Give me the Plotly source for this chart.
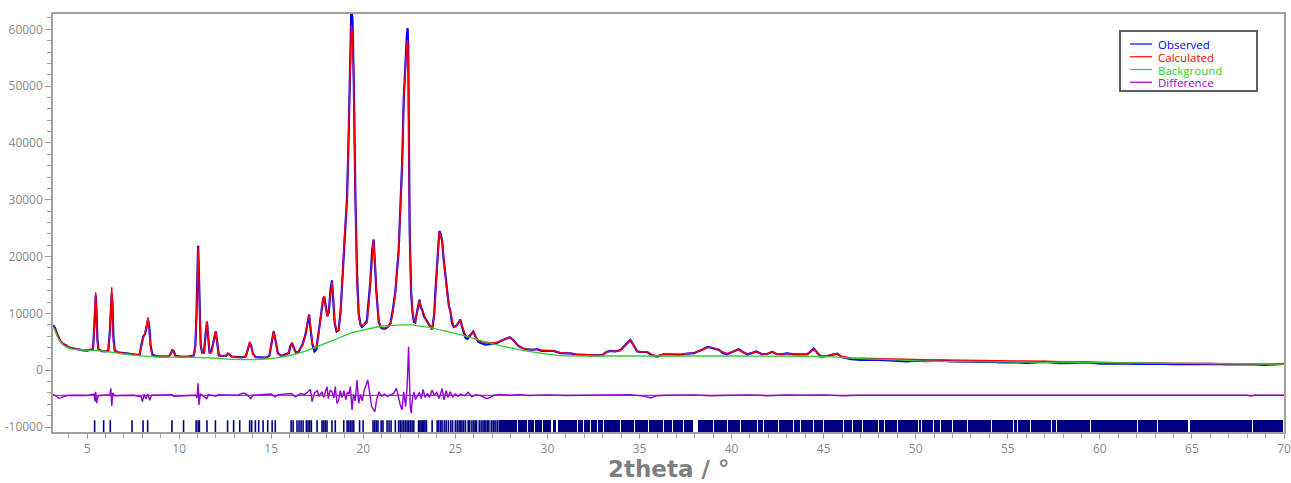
import plotly.graph_objects as go

# ---------------- data ----------------
X_PAT = [3.15, 3.25, 3.35, 3.45, 3.55, 3.7, 3.85, 4.0, 4.2, 4.4, 4.6, 4.8, 5.0, 5.2, 5.32, 5.38, 5.43, 5.47, 5.51, 5.56,
         5.62, 5.8, 6.0, 6.15, 6.24, 6.3, 6.34, 6.38, 6.43, 6.5, 6.7, 7.0, 7.3, 7.6, 7.85, 7.95, 8.05, 8.15, 8.25, 8.31,
         8.37, 8.45, 8.55, 8.8, 9.1, 9.45, 9.55, 9.63, 9.7, 9.8, 10.1, 10.5, 10.8, 10.88, 10.94, 10.99, 11.03, 11.07, 11.11, 11.17,
         11.25, 11.35, 11.44, 11.51, 11.57, 11.65, 11.75, 11.85, 11.94, 11.99, 12.06, 12.15, 12.35, 12.55, 12.64, 12.72, 12.85, 13.1, 13.4, 13.62,
         13.73, 13.83, 13.9, 14.0, 14.15, 14.4, 14.7, 14.9, 15.02, 15.13, 15.24, 15.36, 15.55, 15.8, 15.95, 16.05, 16.13, 16.22, 16.35, 16.5,
         16.7, 16.87, 16.98, 17.06, 17.14, 17.24, 17.35, 17.45, 17.58, 17.72, 17.82, 17.88, 17.95, 18.05, 18.13, 18.22, 18.3, 18.37, 18.45, 18.55,
         18.66, 18.77, 18.85, 18.99, 19.12, 19.21, 19.3, 19.35, 19.41, 19.48, 19.57, 19.66, 19.75, 19.85, 19.93, 20.05, 20.2, 20.3, 20.38, 20.48,
         20.56, 20.63, 20.71, 20.84, 20.95, 21.05, 21.2, 21.35, 21.47, 21.6, 21.74, 21.92, 22.02, 22.11, 22.2, 22.3, 22.36, 22.41, 22.44, 22.47,
         22.52, 22.6, 22.67, 22.75, 22.82, 22.92, 23.0, 23.05, 23.12, 23.2, 23.3, 23.46, 23.6, 23.74, 23.85, 23.93, 24.0, 24.08, 24.13, 24.2,
         24.28, 24.35, 24.42, 24.55, 24.65, 24.73, 24.82, 24.91, 25.05, 25.18, 25.27, 25.4, 25.55, 25.65, 25.8, 25.97, 26.1, 26.25, 26.45, 26.65,
         26.85, 27.05, 27.25, 27.5, 27.75, 27.95, 28.15, 28.4, 28.65, 28.9, 29.2, 29.44, 29.7, 30.0, 30.34, 30.7, 31.0, 31.25, 31.6, 32.0,
         32.4, 32.7, 33.0, 33.2, 33.42, 33.7, 33.96, 34.2, 34.5, 34.72, 34.87, 35.1, 35.41, 35.7, 35.96, 36.3, 36.68, 37.0, 37.23, 37.5,
         37.95, 38.4, 38.7, 38.95, 39.3, 39.55, 39.76, 40.1, 40.39, 40.6, 40.85, 41.1, 41.34, 41.66, 41.95, 42.21, 42.45, 42.7, 43.02, 43.4,
         43.8, 44.1, 44.3, 44.46, 44.62, 44.83, 45.2, 45.5, 45.74, 46.0, 46.5, 47.0, 47.5, 48.0, 48.81, 49.5, 50.08, 50.5, 51.0, 51.5,
         51.89, 52.4, 52.8, 53.5, 54.1, 54.6, 55.3, 56.06, 57.0, 57.87, 58.5, 59.3, 60.04, 61.0, 62.0, 63.0, 64.0, 65.0, 66.0, 67.0,
         68.0, 69.0, 70.0]

Y_CALC = [7800, 7300, 6500, 5800, 5200, 4700, 4300, 4100, 3900, 3750, 3650, 3600, 3550, 3550, 3700, 6500, 11000, 13700, 10500, 5000,
          3500, 3400, 3350, 3400, 6500, 12000, 14600, 11000, 5000, 3300, 3150, 3000, 2900, 2800, 2700, 4200, 5700, 6500, 8500, 9300,
          7500, 4000, 2600, 2500, 2450, 2450, 2800, 3700, 3200, 2500, 2400, 2400, 2600, 4000, 9000, 17000, 21500, 16500, 8500, 4500,
          3200, 3200, 6000, 8600, 6500, 3200, 3100, 4500, 6600, 6900, 5000, 2700, 2500, 2550, 3000, 2700, 2400, 2350, 2250, 2400,
          3700, 5000, 4300, 2800, 2300, 2200, 2200, 2500, 4800, 6900, 5000, 2900, 2500, 2700, 3200, 4200, 4900, 3700, 3100, 3400,
          4300, 6200, 8800, 9600, 7500, 4800, 3900, 4200, 6500, 10000, 12800, 13000, 11000, 9500, 10500, 13500, 15500, 13000, 8500, 7000,
          7100, 10000, 15300, 24100, 30000, 41700, 56400, 60800, 59000, 51100, 30000, 15300, 9400, 8000, 7900, 8100, 8300, 11500, 15300, 21000,
          23000, 19500, 14100, 8800, 7600, 7400, 7400, 7600, 8000, 10000, 13500, 21200, 28000, 35800, 47500, 55000, 57500, 58100, 55000, 41700,
          24100, 14100, 10500, 8800, 8600, 10000, 11800, 12200, 11500, 10500, 9800, 8500, 7800, 7400, 9500, 14000, 18200, 23000, 24500, 23500,
          22900, 20500, 17500, 13500, 11500, 10300, 8500, 7700, 7700, 8500, 8800, 7500, 6200, 5800, 6200, 6700, 5800, 5200, 5000, 4900,
          4800, 4800, 4900, 5200, 5500, 5800, 5300, 4300, 3900, 3700, 3600, 3700, 3500, 3400, 3400, 3100, 3050, 2950, 2800, 2700,
          2650, 2650, 2700, 3200, 3350, 3300, 3550, 4200, 5200, 4300, 3300, 3200, 3250, 2700, 2550, 2800, 2850, 2800, 2800, 2900,
          3000, 3600, 4000, 4000, 3550, 3100, 2850, 3300, 3600, 3200, 2850, 3000, 3250, 2800, 2900, 3200, 2850, 2800, 2950, 2800,
          2800, 2800, 3300, 3700, 3200, 2500, 2550, 2800, 2850, 2400, 2150, 2100, 2050, 2000, 1920, 1900, 1920, 1850, 1800, 1820,
          1800, 1750, 1700, 1650, 1620, 1620, 1610, 1620, 1600, 1450, 1440, 1430, 1320, 1300, 1270, 1240, 1210, 1180, 1160, 1140,
          1120, 1100, 1080]

Y_OBS = [7900, 7500, 6600, 5900, 5100, 4600, 4400, 4000, 3850, 3700, 3550, 3500, 3450, 3550, 3700, 6800, 9800, 13200, 10600, 5600,
         3700, 3350, 3300, 3400, 6900, 10500, 13500, 11800, 6000, 3500, 3100, 3000, 2850, 2750, 2650, 4500, 5900, 6400, 8000, 8800,
         7900, 4400, 2700, 2450, 2400, 2450, 2900, 3500, 3400, 2550, 2350, 2400, 2600, 4300, 9500, 16000, 21900, 17500, 9500, 4400,
         3100, 3100, 6400, 8500, 6200, 3000, 3300, 4700, 6500, 6800, 5100, 2600, 2500, 2550, 2900, 2800, 2400, 2300, 2250, 2450,
         3600, 4700, 4500, 3000, 2300, 2200, 2200, 2500, 4600, 6800, 5200, 3000, 2500, 2800, 3000, 4300, 4800, 4000, 3000, 3300,
         4500, 6400, 8600, 9800, 7200, 4500, 3300, 3600, 6800, 10300, 12500, 13000, 11500, 9500, 10200, 14200, 15800, 12500, 8200, 6800,
         7000, 10500, 15500, 24000, 30500, 42000, 57000, 63500, 62000, 51500, 31000, 17000, 10000, 8000, 7600, 8000, 8800, 12000, 15500, 21000,
         23000, 19000, 13800, 8500, 7500, 7300, 7300, 7700, 8200, 10500, 13800, 21000, 28500, 36500, 48000, 56000, 58500, 60200, 57000, 44000,
         24500, 13500, 10200, 8500, 8400, 10300, 11500, 12400, 11000, 10600, 9500, 8500, 7900, 7200, 9800, 14500, 18000, 23500, 24500, 24000,
         22800, 20000, 18000, 13800, 11300, 10400, 8300, 7600, 7800, 8400, 8900, 7200, 5700, 5500, 6100, 6800, 5900, 5000, 4700, 4500,
         4600, 4700, 4800, 5200, 5500, 5800, 5300, 4300, 3850, 3650, 3600, 3700, 3400, 3350, 3400, 3000, 3000, 2950, 2750, 2700,
         2600, 2600, 2700, 3200, 3400, 3300, 3500, 4300, 5300, 4200, 3300, 3200, 3200, 2600, 2400, 2800, 2800, 2800, 2700, 2900,
         3000, 3600, 4100, 3900, 3600, 3000, 2850, 3300, 3700, 3200, 2800, 3000, 3300, 2800, 2900, 3200, 2850, 2800, 2950, 2800,
         2750, 2800, 3300, 3800, 3200, 2400, 2500, 2700, 2900, 2300, 1950, 1800, 1850, 1800, 1700, 1550, 1700, 1600, 1650, 1700,
         1550, 1500, 1400, 1450, 1500, 1350, 1400, 1300, 1450, 1250, 1300, 1350, 1150, 1200, 1100, 1150, 1050, 1100, 1100, 1000,
         1050, 950, 1100]

X_BKG = [3.15, 3.2, 3.4, 3.6, 3.83, 4.1, 4.56, 5.2, 5.65, 6.2, 6.73, 7.5, 8.54, 9.6, 10.72, 12.0, 13.07, 13.87, 14.8, 15.68,
         16.6, 17.49, 18.4, 19.3, 20.2, 21.1, 21.8, 22.56, 23.2, 23.82, 24.73, 25.45, 26.4, 27.27, 28.2, 29.08, 29.8, 30.53, 31.5, 32.7,
         36.32, 40.0, 44.0, 45.5, 46.64, 47.8, 48.81, 50.5, 52.0, 55.0, 57.9, 60.04, 65.0, 69.1, 70.0]
Y_BKG = [7600, 7380, 5800, 4800, 4140, 3800, 3600, 3500, 3430, 3200, 2970, 2650, 2380, 2300, 2270, 2100, 1900, 1850, 2000, 2380,
         3100, 4140, 5300, 6490, 7250, 7780, 7950, 7960, 7700, 7380, 6670, 6080, 5200, 4440, 3800, 3260, 2900, 2620, 2520, 2500,
         2500, 2500, 2450, 2350, 2090, 1950, 1800, 1600, 1520, 1450, 1380, 1320, 1200, 1090, 1070]

X_DIFF = [3.15, 3.3, 3.48, 3.7, 3.9, 4.5, 5.0, 5.38, 5.43, 5.47, 5.52, 5.6, 6.0, 6.24, 6.29, 6.34, 6.4, 6.5, 7.5, 7.95,
          8.0, 8.1, 8.2, 8.3, 8.4, 8.5, 9.6, 9.7, 10.9, 10.97, 11.03, 11.08, 11.15, 11.5, 11.6, 12.0, 12.1, 13.2, 13.45, 13.6,
          13.8, 13.9, 14.0, 15.0, 15.2, 15.4, 16.1, 16.3, 16.6, 16.8, 17.0, 17.13, 17.22, 17.35, 17.5, 17.6, 17.75, 17.85, 17.95, 18.03,
          18.1, 18.2, 18.3, 18.4, 18.48, 18.57, 18.66, 18.75, 18.85, 18.95, 19.05, 19.15, 19.22, 19.3, 19.39, 19.47, 19.56, 19.66, 19.75, 19.85,
          19.95, 20.05, 20.15, 20.24, 20.35, 20.45, 20.56, 20.63, 20.72, 20.85, 21.0, 21.15, 21.3, 21.5, 21.65, 21.8, 21.9, 22.0, 22.1, 22.2,
          22.3, 22.38, 22.46, 22.5, 22.55, 22.6, 22.67, 22.75, 22.83, 22.92, 23.05, 23.15, 23.25, 23.35, 23.5, 23.6, 23.74, 23.85, 24.0, 24.1,
          24.2, 24.28, 24.38, 24.5, 24.6, 24.72, 24.85, 25.0, 25.15, 25.3, 25.5, 25.7, 25.9, 26.1, 26.4, 26.7, 26.9, 27.1, 27.4, 28.0,
          28.5, 29.0, 30.0, 31.0, 32.0, 33.0, 34.0, 34.5, 35.3, 35.6, 35.9, 36.5, 38.0, 38.8, 40.0, 41.0, 42.0, 43.0, 44.0, 45.0,
          46.0, 47.0, 50.0, 54.7, 55.0, 55.4, 60.0, 65.0, 68.0, 68.2, 68.4, 70.0]
Y_DIFF = [-4300, -4500, -4950, -4700, -4450, -4400, -4450, -4200, -5500, -3800, -5800, -4500, -4400, -4300, -3190, -6300, -4000, -4500, -4400, -4700,
          -5550, -4300, -5000, -4200, -5300, -4400, -4300, -4600, -4400, -4900, -2300, -6130, -4200, -5000, -4300, -4600, -4300, -4400, -4050, -4100,
          -4700, -5000, -4400, -4200, -4700, -4300, -4100, -4700, -4100, -4300, -3800, -3360, -5540, -4000, -3600, -4600, -3800, -4800, -3700, -2900,
          -5000, -3500, -3800, -4900, -2900, -5830, -5300, -3600, -4800, -3600, -5200, -3800, -4200, -2900, -7000, -4200, -5400, -1720, -5830, -4300,
          -5400, -3500, -2600, -1720, -4000, -6300, -7000, -7300, -5300, -3800, -4600, -4200, -4600, -4300, -4100, -3190, -4800, -6000, -7000, -3800,
          -6400, -3000, 4140, -4000, -6500, -7570, -5000, -3800, -5200, -4660, -3900, -5000, -3360, -4800, -4100, -4800, -3490, -4400, -3900, -5000,
          -4200, -3190, -5200, -3600, -4800, -3800, -4700, -4200, -4600, -4200, -4500, -3900, -4700, -4300, -4500, -5000, -4800, -4400, -4250, -4400,
          -4300, -4450, -4350, -4450, -4400, -4350, -4400, -4300, -4600, -4900, -4500, -4400, -4350, -4500, -4400, -4350, -4500, -4350, -4400, -4350,
          -4500, -4400, -4400, -4400, -4500, -4450, -4420, -4420, -4420, -4550, -4420, -4420]
DIFF_BASELINE = -4420

# reflection (hkl) tick positions, individually resolved at low angle
HKL_TICKS = [5.41, 5.9, 6.26, 7.44, 8.04, 8.29, 9.61, 10.24, 10.92, 11.03, 11.1, 11.51, 11.97, 12.63, 12.96, 13.29, 13.83, 13.94, 14.14, 14.32,
             14.56, 14.81, 15.05, 15.22, 16.08, 16.19, 16.4, 16.51, 16.62, 16.73, 16.91, 17.0, 17.09, 17.18, 17.49, 17.76, 17.85, 17.94, 18.03, 18.3,
             18.48, 18.94, 19.12, 19.21, 19.3, 19.39, 19.48, 19.8, 19.99, 20.53, 20.62, 20.71, 20.8, 20.97, 21.07, 21.29, 21.4, 21.51, 21.74, 21.92,
             22.01, 22.1, 22.2, 22.29, 22.38, 22.47, 22.56, 22.65, 22.74, 23.0, 23.07, 23.14, 23.21, 23.28, 23.35, 23.43, 23.74, 24.01, 24.1, 24.2,
             24.28, 24.4, 24.5, 24.62, 24.75, 24.85, 25.0, 25.1, 25.2, 25.28, 25.36, 25.45, 25.55, 25.7, 25.78, 25.9, 26.0, 26.08, 26.15, 26.3,
             26.4, 26.5, 26.58, 26.66, 26.75, 26.82, 26.95, 27.05, 27.1, 27.2, 27.3, 27.4]
# at higher angle the reflections merge into a solid band, broken by narrow gaps
HKL_BAND_START = 27.45
HKL_BAND_END = 69.95
HKL_BAND_GAPS = [28.39, 28.9, 29.29, 29.71, 30.25, 30.52, 31.61, 31.97, 32.33, 32.7, 33.06, 33.96, 34.72, 35.5, 36.32, 36.77, 37.4, 38.04,
                 39.03, 39.76, 40.48, 41.39, 41.75, 42.57, 43.38, 43.74, 44.47, 45.01, 46.1, 46.55, 47.12, 47.99, 48.32, 49.02, 50.13, 50.31,
                 50.95, 51.34, 51.98, 52.8, 54.1, 55.33, 55.55, 56.24, 57.38, 57.65, 59.5, 62.03, 63.15, 64.84, 68.31]
HKL_GAP_WIDTHS = [0.06] * 17 + [0.32] + [0.06] * 33
HKL_TOP = -8800
HKL_BOTTOM = -10880

X_RANGE = [3.15, 70.0]
Y_RANGE = [-10880, 62700]
Y_TICKVALS = [-10000, 0, 10000, 20000, 30000, 40000, 50000, 60000]
Y_TICKTEXT = ["-10000", "0", "10000", "20000", "30000", "40000", "50000", "60000"]
X_TICKVALS = [5, 10, 15, 20, 25, 30, 35, 40, 45, 50, 55, 60, 65, 70]
X_TICKTEXT = ["5", "10", "15", "20", "25", "30", "35", "40", "45", "50", "55", "60", "65", "70"]
X_TITLE = "2theta / °"

SERIES_NAMES = ["Observed", "Calculated", "Background", "Difference"]
SERIES_COLORS = ["#0000ff", "#ff0000", "#33cc33", "#9400d3"]
TICK_COLOR = "#000080"

# ---------------- figure ----------------
W, H = 1291, 483
ML, MR, MT, MB = 53, 7, 14, 51
FONT = "Open Sans, Noto Sans, sans-serif"
GRAY = "#8a8a8a"

fig = go.Figure()

fig.add_trace(go.Scatter(x=X_PAT, y=Y_OBS, mode="lines", name=SERIES_NAMES[0],
                         line=dict(color=SERIES_COLORS[0], width=2.2), showlegend=False))
fig.add_trace(go.Scatter(x=X_PAT, y=Y_CALC, mode="lines", name=SERIES_NAMES[1],
                         line=dict(color=SERIES_COLORS[1], width=1.4), showlegend=False))
fig.add_trace(go.Scatter(x=X_BKG, y=Y_BKG, mode="lines", name=SERIES_NAMES[2],
                         line=dict(color=SERIES_COLORS[2], width=1.3, shape="spline"), showlegend=False))
fig.add_trace(go.Scatter(x=[X_RANGE[0], X_RANGE[1]], y=[DIFF_BASELINE, DIFF_BASELINE], mode="lines",
                         line=dict(color=SERIES_COLORS[3], width=1), showlegend=False, hoverinfo="skip"))
fig.add_trace(go.Scatter(x=X_DIFF, y=Y_DIFF, mode="lines", name=SERIES_NAMES[3],
                         line=dict(color=SERIES_COLORS[3], width=1.4), showlegend=False))

# individual reflection ticks
tx, ty = [], []
for t in HKL_TICKS:
    tx += [t, t, None]
    ty += [HKL_TOP, HKL_BOTTOM, None]
fig.add_trace(go.Scatter(x=tx, y=ty, mode="lines", line=dict(color=TICK_COLOR, width=1.6),
                         showlegend=False, hoverinfo="skip", name="Reflections"))

# dense reflection band (segments between the gaps)
seg_c, seg_w = [], []
start = HKL_BAND_START
for g, gw in zip(HKL_BAND_GAPS, HKL_GAP_WIDTHS):
    end = g - gw / 2
    seg_c.append((start + end) / 2)
    seg_w.append(end - start)
    start = g + gw / 2
seg_c.append((start + HKL_BAND_END) / 2)
seg_w.append(HKL_BAND_END - start)
fig.add_trace(go.Bar(x=seg_c, y=[HKL_TOP - HKL_BOTTOM] * len(seg_c), base=HKL_BOTTOM, width=seg_w,
                     marker=dict(color=TICK_COLOR, line=dict(width=0)), showlegend=False,
                     hoverinfo="skip", name="Reflections"))

# manual legend (compact, as in the reference): one multi-line text block
pw, ph = W - ML - MR, H - MT - MB
def px2x(p):
    return (p - ML) / pw
def py2y(p):
    return 1 - (p - MT) / ph

LINE_STEP = 12.75
shapes = [dict(type="rect", xref="paper", yref="paper", x0=px2x(1120), x1=px2x(1257), y0=py2y(91), y1=py2y(31),
               line=dict(color="#5f5f5f", width=2), fillcolor="white", layer="above")]
for i, col in enumerate(SERIES_COLORS):
    yy = 44 + i * LINE_STEP
    shapes.append(dict(type="line", xref="paper", yref="paper", x0=px2x(1130), x1=px2x(1152),
                       y0=py2y(yy), y1=py2y(yy), line=dict(color=col, width=1.2), layer="above"))
legend_text = "<br>".join(
    f'<span style="color:{c};font-size:11.5px">{n}</span>' for n, c in zip(SERIES_NAMES, SERIES_COLORS))
annotations = [
    dict(xref="paper", yref="paper", x=px2x(1157), y=py2y(44 + 1.5 * LINE_STEP), text=legend_text,
         showarrow=False, xanchor="left", yanchor="middle", align="left", borderpad=0,
         font=dict(family=FONT, size=LINE_STEP / 1.3, color=SERIES_COLORS[0])),
    # x-axis title
    dict(xref="paper", yref="paper", x=0.5, y=py2y(469), text=f"<b>{X_TITLE}</b>", showarrow=False,
         xanchor="center", yanchor="middle", borderpad=0,
         font=dict(family="DejaVu Sans, Open Sans, sans-serif", size=23, color="#7f7f7f")),
]

fig.update_layout(
    width=W, height=H,
    margin=dict(l=ML, r=MR, t=MT, b=MB, autoexpand=False),
    paper_bgcolor="white", plot_bgcolor="white",
    showlegend=False, barmode="overlay", bargap=0,
    font=dict(family=FONT, size=12, color=GRAY),
    shapes=shapes, annotations=annotations,
    xaxis=dict(range=X_RANGE, tickvals=X_TICKVALS, ticktext=X_TICKTEXT, showgrid=False, zeroline=False,
               automargin=False,
               showline=True, linecolor="#a0a0a0", linewidth=1.5, mirror=True,
               ticks="outside", ticklen=5, tickcolor="#a0a0a0", tickwidth=1,
               minor=dict(dtick=1, tick0=0, ticks="outside", ticklen=4, tickcolor="#a0a0a0", showgrid=False),
               tickfont=dict(family=FONT, size=12, color=GRAY)),
    yaxis=dict(range=Y_RANGE, tickvals=Y_TICKVALS, ticktext=Y_TICKTEXT, showgrid=False, zeroline=False,
               automargin=False,
               showline=True, linecolor="#a0a0a0", linewidth=1.5, mirror=True,
               ticks="outside", ticklen=6, tickcolor="#a0a0a0", tickwidth=1,
               minor=dict(dtick=2000, tick0=0, ticks="outside", ticklen=4, tickcolor="#a0a0a0", showgrid=False),
               tickfont=dict(family=FONT, size=12, color=GRAY)),
)

fig.write_html("out.html")
